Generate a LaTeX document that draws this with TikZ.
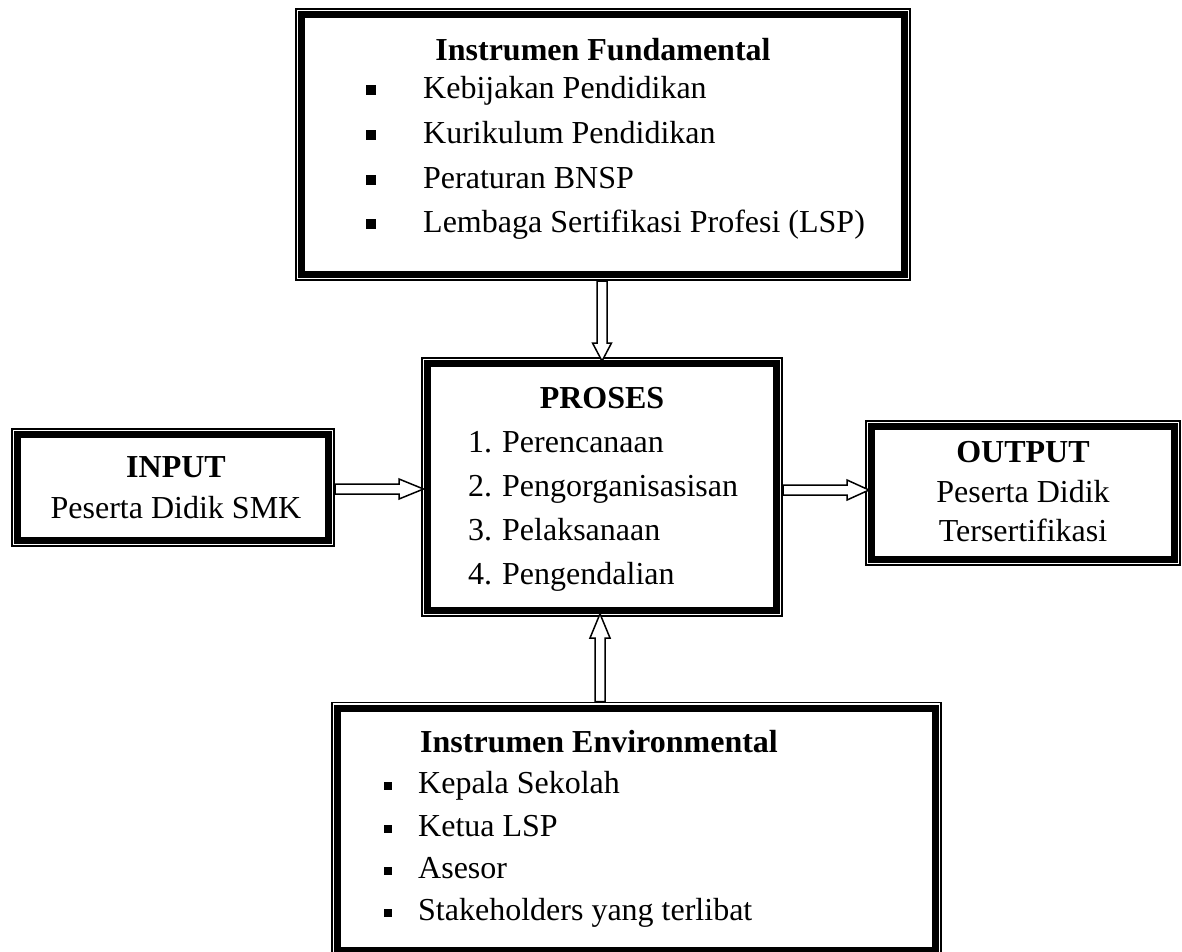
\documentclass[tikz,border=0pt]{standalone}
\usepackage{fontspec}
\setmainfont{Liberation Serif}
\usetikzlibrary{calc}
\newcommand\innerframe[1]{\draw[thickin] ([xshift=6.8pt,yshift=-6.8pt]#1.north west) rectangle ([xshift=-6.8pt,yshift=6.8pt]#1.south east);}
\newcommand\numitem[1]{\makebox[34pt][l]{#1}}
\begin{document}
\begin{tikzpicture}[x=1pt,y=-1pt,
  txt/.style={font=\fontsize{32}{38}\selectfont, inner sep=0pt},
  hd/.style={inner sep=0pt, font=\fontsize{32}{38}\selectfont\bfseries},
  frame/.style={draw=black, line width=1.6pt, fill=white, inner sep=0pt},
  thickin/.style={draw=black, line width=6.8pt},
  barrow/.style={draw=black, line width=1.5pt, fill=white, line join=miter},
  bul/.style={fill=black, minimum size=10pt, inner sep=0pt, draw=none}
]
\useasboundingbox (0,0) rectangle (1182,951);

% frames
\node[frame, minimum width=614.4pt, minimum height=271.4pt] (fund) at (603,144.5) {};
\node[frame, minimum width=360.4pt, minimum height=258.4pt] (proses) at (602,487) {};
\node[frame, minimum width=322.4pt, minimum height=117.4pt] (input) at (173,487.5) {};
\node[frame, minimum width=314.4pt, minimum height=144.4pt] (output) at (1023,493) {};
\node[frame, minimum width=609.4pt, minimum height=254.4pt] (env) at (636.5,829.5) {};
\innerframe{fund}
\innerframe{proses}
\innerframe{input}
\innerframe{output}
\innerframe{env}

% arrows
\draw[barrow] let \p1=(fund.south), \p2=(proses.north) in
  (\x2-5pt,\y1) -- (\x2-5pt,\y2+14pt) -- (\x2-9.5pt,\y2+14pt) -- (\x2,\y2-4pt)
  -- (\x2+9.5pt,\y2+14pt) -- (\x2+5pt,\y2+14pt) -- (\x2+5pt,\y1) -- cycle;
\draw[barrow] let \p1=(env.north), \p2=(proses.south) in
  (\x2-7pt,\y1) -- (\x2-7pt,\y2-21pt) -- (\x2-12pt,\y2-21pt) -- (\x2-2pt,\y2+3.2pt)
  -- (\x2+8pt,\y2-21pt) -- (\x2+3pt,\y2-21pt) -- (\x2+3pt,\y1) -- cycle;
\draw[barrow] let \p1=(input.east), \p2=(proses.west) in
  (\x1,\y1+3.5pt) -- (\x2-22pt,\y1+3.5pt) -- (\x2-22pt,\y1+8.5pt) -- (\x2+2.5pt,\y1-1.5pt)
  -- (\x2-22pt,\y1-11.5pt) -- (\x2-22pt,\y1-6.5pt) -- (\x1,\y1-6.5pt) -- cycle;
\draw[barrow] let \p1=(proses.east), \p2=(output.west) in
  (\x1,\y1+2pt) -- (\x2-18pt,\y1+2pt) -- (\x2-18pt,\y1+7pt) -- (\x2+4pt,\y1-3pt)
  -- (\x2-18pt,\y1-13pt) -- (\x2-18pt,\y1-8pt) -- (\x1,\y1-8pt) -- cycle;

% top box text
\node[hd, anchor=base] (fundh) at (603,60) {Instrumen Fundamental};
\node[bul] (fb1) at (371,90) {};
\node[bul] (fb2) at (371,135) {};
\node[bul] (fb3) at (371,180) {};
\node[bul] (fb4) at (371,224) {};
\node[txt, anchor=base west] (f1) at (423,98) {Kebijakan Pendidikan};
\node[txt, anchor=base west] (f2) at (423,143) {Kurikulum Pendidikan};
\node[txt, anchor=base west] (f3) at (423,188) {Peraturan BNSP};
\node[txt, anchor=base west] (f4) at (423,232) {Lembaga Sertifikasi Profesi (LSP)};

% proses text
\node[hd, anchor=base] (prosesh) at (602,408) {PROSES};
\node[txt, anchor=base west] (p1) at (468,452) {\numitem{1.}Perencanaan};
\node[txt, anchor=base west] (p2) at (468,496) {\numitem{2.}Pengorganisasisan};
\node[txt, anchor=base west] (p3) at (468,540) {\numitem{3.}Pelaksanaan};
\node[txt, anchor=base west] (p4) at (468,584) {\numitem{4.}Pengendalian};

% input text
\node[hd, anchor=base] (inputh) at (176,477) {INPUT};
\node[txt, anchor=base] (input1) at (176,518) {Peserta Didik SMK};

% output text
\node[hd, anchor=base] (outputh) at (1023,462) {OUTPUT};
\node[txt, anchor=base] (output1) at (1023,502) {Peserta Didik};
\node[txt, anchor=base] (output2) at (1023,541) {Tersertifikasi};

% env text
\node[hd, anchor=base west] (envh) at (420,752) {Instrumen Environmental};
\node[bul, minimum size=8.5pt] (eb1) at (388,786) {};
\node[bul, minimum size=8.5pt] (eb2) at (388,829) {};
\node[bul, minimum size=8.5pt] (eb3) at (388,871) {};
\node[bul, minimum size=8.5pt] (eb4) at (388,913) {};
\node[txt, anchor=base west] (e1) at (418,793) {Kepala Sekolah};
\node[txt, anchor=base west] (e2) at (418,836) {Ketua LSP};
\node[txt, anchor=base west] (e3) at (418,878) {Asesor};
\node[txt, anchor=base west] (e4) at (418,920) {Stakeholders yang terlibat};
\end{tikzpicture}
\end{document}
